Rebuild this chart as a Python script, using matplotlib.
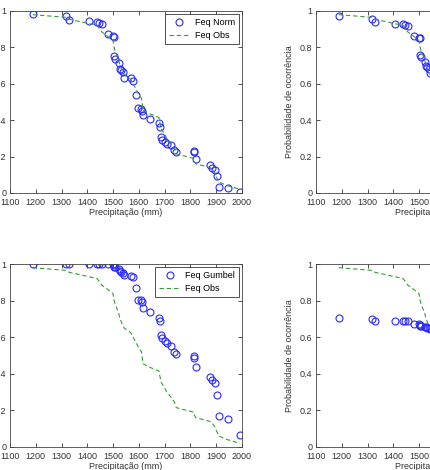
import matplotlib
matplotlib.use('Agg')
import matplotlib.pyplot as plt

plt.rcParams['font.family'] = ['Liberation Sans', 'DejaVu Sans']

# precipitacao anual ordenada (mm)
precip = [1188, 1318, 1328, 1408, 1438, 1446, 1456, 1480, 1499, 1502, 1504,
          1508, 1522, 1525, 1530, 1537, 1543, 1568, 1576, 1589, 1598, 1610,
          1614, 1616, 1643, 1678, 1681, 1684, 1688, 1701, 1708, 1723, 1738,
          1745, 1813, 1815, 1821, 1876, 1885, 1895, 1902, 1910, 1944, 1992]

feq_obs = [0.98, 0.965, 0.955, 0.93, 0.92, 0.905, 0.885, 0.86, 0.84, 0.82,
           0.80, 0.78, 0.73, 0.71, 0.69, 0.665, 0.65, 0.625, 0.605, 0.57,
           0.545, 0.52, 0.48, 0.455, 0.435, 0.415, 0.39, 0.37, 0.35, 0.32,
           0.30, 0.275, 0.245, 0.215, 0.19, 0.175, 0.16, 0.14, 0.13, 0.11,
           0.085, 0.06, 0.04, 0.02]

feq_norm = [0.983, 0.972, 0.953, 0.943, 0.939, 0.936, 0.930, 0.873, 0.860,
            0.856, 0.751, 0.738, 0.715, 0.683, 0.674, 0.667, 0.633, 0.630,
            0.615, 0.536, 0.468, 0.464, 0.453, 0.427, 0.407, 0.383, 0.363,
            0.306, 0.291, 0.282, 0.269, 0.262, 0.238, 0.227, 0.231, 0.225,
            0.186, 0.153, 0.138, 0.127, 0.092, 0.033, 0.030, 0.003]

feq_gumbel = [1.0, 1.0, 1.0, 1.0, 1.0, 1.0, 1.0, 1.0, 1.0, 0.995, 0.985,
              0.982, 0.971, 0.960, 0.955, 0.952, 0.938, 0.936, 0.929, 0.868,
              0.804, 0.802, 0.795, 0.760, 0.735, 0.707, 0.691, 0.612, 0.594,
              0.580, 0.567, 0.554, 0.521, 0.506, 0.499, 0.488, 0.439, 0.384,
              0.365, 0.347, 0.283, 0.169, 0.155, 0.064]

# paineis da direita (so a parte visivel)
precip_dir = precip[:17]
feq_dir_sup = [0.974, 0.956, 0.938, 0.929, 0.929, 0.923, 0.916, 0.861, 0.853,
               0.850, 0.758, 0.746, 0.720, 0.700, 0.690, 0.680, 0.660]
feq_dir_inf = [0.705, 0.700, 0.690, 0.689, 0.689, 0.687, 0.687, 0.674, 0.672,
               0.668, 0.661, 0.660, 0.656, 0.655, 0.652, 0.648, 0.645]

xticks = list(range(1100, 2001, 100))
yticks = [0, 0.2, 0.4, 0.6, 0.8, 1]
yticklabels = ['0', '0.2', '0.4', '0.6', '0.8', '1']

W, H = 431, 470
fig = plt.figure(figsize=(W / 100, H / 100), dpi=100)

def make_ax(x0, y0, x1, y1):
    ax = fig.add_axes([x0 / W, 1 - y1 / H, (x1 - x0) / W, (y1 - y0) / H])
    ax.set_xlim(1100, 2000)
    ax.set_ylim(0, 1)
    ax.set_xticks(xticks)
    ax.set_yticks(yticks)
    ax.set_yticklabels(yticklabels)
    ax.tick_params(direction='in', top=True, right=True, length=3,
                   width=0.6, labelsize=6.5, colors='#333333', pad=2.5)
    ax.tick_params(axis='x', pad=3.5)
    for s in ax.spines.values():
        s.set_linewidth(0.6)
        s.set_color('#444444')
    ax.set_xlabel('Precipitação (mm)', fontsize=6.5, color='#333333', labelpad=1)
    ax.set_ylabel('Probabilidade de ocorrência', fontsize=6.5, color='#333333',
                  labelpad=4)
    return ax

mk = dict(marker='o', ls='none', ms=5, mfc='none', mec='#2a2aff', mew=0.8)
ln = dict(color='#3a9a3a', ls='--', lw=0.8, dashes=(4, 2.5))

ax1 = make_ax(10, 11, 242, 193)
ax1.plot(precip, feq_norm, label='Feq Norm', **mk)
ax1.plot(precip, feq_obs, label='Feq Obs', **ln)

ax2 = make_ax(316, 11, 548, 193)
ax2.plot(precip_dir, feq_dir_sup, **mk)
ax2.plot(precip, feq_obs, **ln)

ax3 = make_ax(10, 264, 242, 447)
ax3.plot(precip, feq_gumbel, label='Feq Gumbel', **mk)
ax3.plot(precip, feq_obs, label='Feq Obs', **ln)

ax4 = make_ax(316, 264, 548, 447)
ax4.plot(precip_dir, feq_dir_inf, **mk)
ax4.plot(precip, feq_obs, **ln)

for ax in (ax1, ax3):
    leg = ax.legend(loc='upper right', fontsize=6.5, fancybox=False,
                    framealpha=1, edgecolor='#333333', borderaxespad=0.3,
                    handlelength=2.3, handletextpad=0.6, borderpad=0.45,
                    labelspacing=0.45)
    leg.get_frame().set_linewidth(0.6)

fig.savefig('out.png', dpi=100)
